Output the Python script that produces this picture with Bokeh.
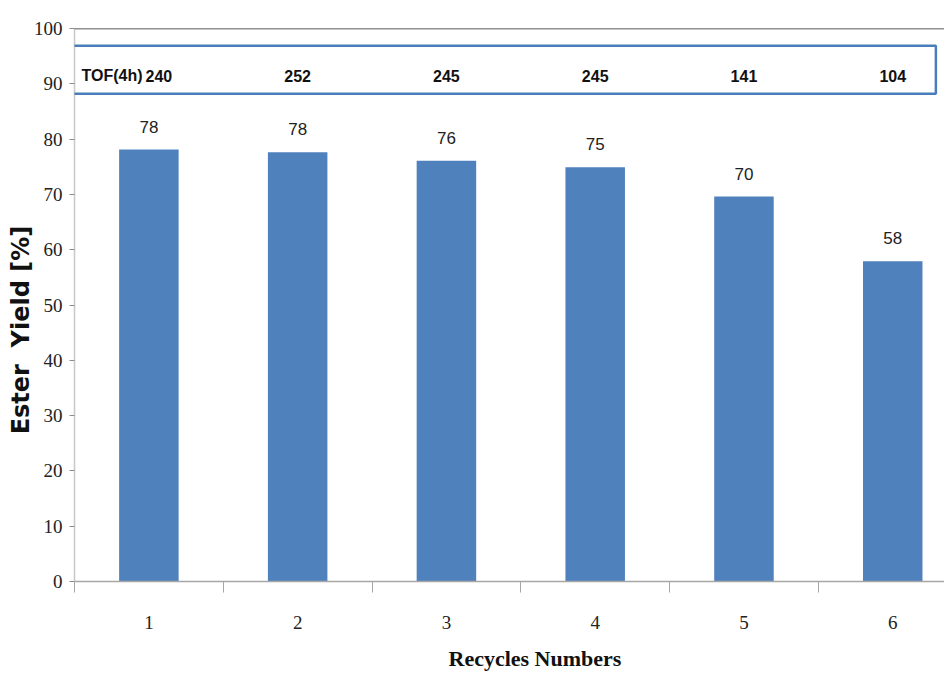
from bokeh.plotting import figure
from bokeh.models import FixedTicker, Span, BoxAnnotation, ColumnDataSource, Title
from bokeh.core.properties import value
from bokeh.embed import file_html
from bokeh.resources import INLINE

cycles = [1, 2, 3, 4, 5, 6]
yields = [78.1, 77.6, 76.1, 74.9, 69.6, 57.9]
yield_labels = ["78", "78", "76", "75", "70", "58"]
tof_labels = ["240", "252", "245", "245", "141", "104"]
tof_title = "TOF(4h)"
y_ticks = [0, 10, 20, 30, 40, 50, 60, 70, 80, 90, 100]
x_title = "Recycles Numbers"
y_title = "Ester\u00a0 Yield [%]"

SANS = "Liberation Sans"
TOF_Y = 91.5

src = ColumnDataSource(dict(x=cycles, y=yields, lab=yield_labels))
tof_first = ColumnDataSource(dict(x=cycles[:1], y=[TOF_Y], t=tof_labels[:1]))
tof_rest = ColumnDataSource(dict(x=cycles[1:], y=[TOF_Y] * (len(cycles) - 1), t=tof_labels[1:]))

p = figure(width=944, height=684, x_range=(0.5, 6.348), y_range=(0, 100),
           output_backend="svg", toolbar_location=None,
           min_border_left=74, min_border_right=0, min_border_top=28, min_border_bottom=103)

p.vbar(x="x", top="y", width=0.40, source=src, fill_color="#4f81bd", line_color=None)

p.text(x="x", y="y", text="lab", source=src, text_align="center", text_baseline="bottom",
       y_offset=-17, text_font=value(SANS), text_font_size="17px", text_color="#222222")

tof_style = dict(text_align="center", text_baseline="middle", text_font=value(SANS),
                 text_font_size="16px", text_font_style="bold", text_color="#111111")
p.text(x="x", y="y", text="t", source=tof_rest, **tof_style)
p.text(x="x", y="y", text="t", source=tof_first, x_offset=10, **tof_style)
p.text(x=[0.547], y=[TOF_Y], text=[tof_title], text_align="left", text_baseline="middle",
       text_font=value(SANS), text_font_size="16px", text_font_style="bold",
       text_color="#111111")

box = BoxAnnotation(left=0.487, right=6.29, bottom=88.2, top=96.9,
                    fill_color=None, fill_alpha=0, line_color="#4a7ebb", line_alpha=1.0,
                    line_width=2.5)
p.add_layout(box)

p.add_layout(Span(location=100, dimension="width", line_color="#222222", line_width=1.5))

p.grid.visible = False
p.outline_line_color = None

# y axis
p.yaxis.ticker = FixedTicker(ticks=y_ticks)
p.yaxis.major_tick_out = 5
p.yaxis.major_tick_in = 0
p.yaxis.minor_tick_out = 0
p.yaxis.minor_tick_in = 0
p.yaxis.axis_line_color = "#c8c8c8"
p.yaxis.axis_line_width = 1.5
p.yaxis.major_tick_line_color = "#8c8c8c"
p.yaxis.major_label_text_font = "Liberation Serif"
p.yaxis.major_label_text_font_size = "19px"
p.yaxis.major_label_text_color = "#222222"
p.yaxis.major_label_standoff = 7
p.yaxis.axis_label = y_title + "\u00a0" * 6
p.yaxis.axis_label_text_font = "DejaVu Sans"
p.yaxis.axis_label_text_font_style = "bold"
p.yaxis.axis_label_text_font_size = "24px"
p.yaxis.axis_label_text_color = "#111111"
p.yaxis.axis_label_standoff = -4

# x axis
p.xaxis.ticker = FixedTicker(ticks=cycles, minor_ticks=[0.5, 1.5, 2.5, 3.5, 4.5, 5.5, 6.5])
p.xaxis.major_tick_out = 0
p.xaxis.major_tick_in = 0
p.xaxis.minor_tick_out = 11
p.xaxis.minor_tick_in = 0
p.xaxis.minor_tick_line_color = "#a6a6a6"
p.xaxis.axis_line_color = "#a6a6a6"
p.xaxis.axis_line_width = 1.5
p.xaxis.major_label_text_font = "Liberation Serif"
p.xaxis.major_label_text_font_size = "19px"
p.xaxis.major_label_text_color = "#222222"
p.xaxis.major_label_standoff = 23

xt = Title(text=x_title, align="left", offset=374, standoff=25,
           text_font="Liberation Serif", text_font_style="bold", text_font_size="22px",
           text_color="#111111")
p.add_layout(xt, "below")

open("out.html", "w").write(file_html(p, INLINE))
